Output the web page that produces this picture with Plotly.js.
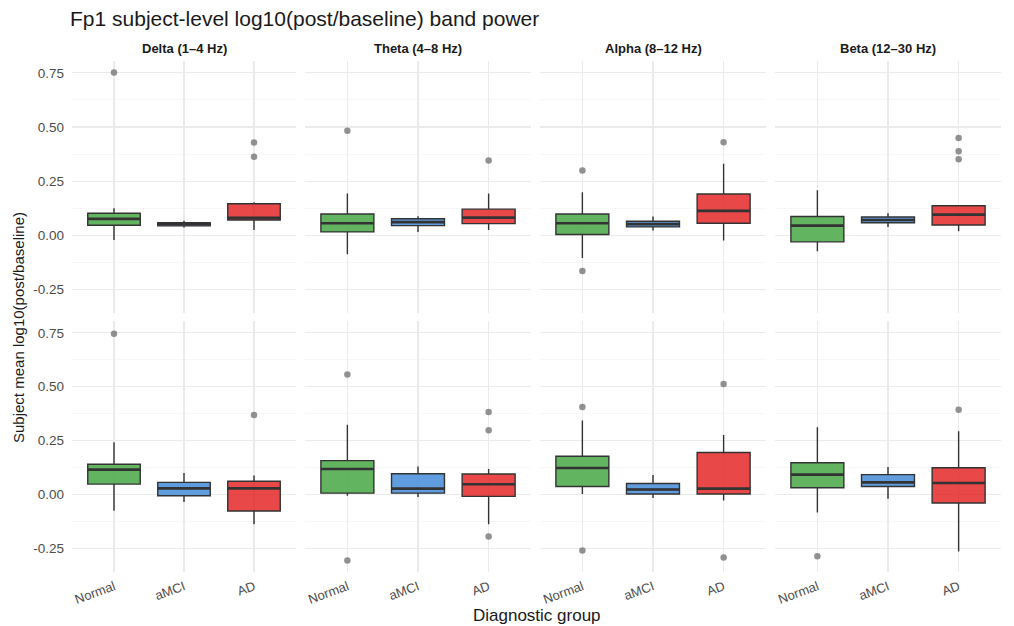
<!DOCTYPE html>
<html>
<head>
<meta charset="utf-8">
<script src="https://cdn.plot.ly/plotly-3.0.1.min.js"></script>
<style>html,body{margin:0;padding:0;background:#fff;}#chart{width:1014px;height:626px;}</style>
</head>
<body>
<div id="chart"></div>
<script>
// ---------- data ----------
const bands = ["Delta (1–4 Hz)", "Theta (4–8 Hz)", "Alpha (8–12 Hz)", "Beta (12–30 Hz)"];
const groups = ["Normal", "aMCI", "AD"];
const groupColors = ["rgba(77,170,74,0.88)", "rgba(74,144,217,0.88)", "rgba(228,26,28,0.8)"];

// top row: [band][group]
const topLower  = [[-0.022, 0.035, 0.024], [-0.088, 0.015, 0.024], [-0.106, 0.021, -0.025], [-0.075, 0.038, 0.018]];
const topQ1     = [[0.046, 0.043, 0.070], [0.015, 0.044, 0.053], [0.003, 0.038, 0.055], [-0.031, 0.057, 0.047]];
const topMedian = [[0.075, 0.050, 0.080], [0.055, 0.060, 0.081], [0.055, 0.051, 0.112], [0.044, 0.070, 0.095]];
const topQ3     = [[0.101, 0.058, 0.145], [0.098, 0.076, 0.120], [0.098, 0.064, 0.190], [0.086, 0.084, 0.136]];
const topUpper  = [[0.124, 0.067, 0.152], [0.193, 0.087, 0.193], [0.198, 0.086, 0.330], [0.208, 0.101, 0.138]];
const topOutliers = [
  [[0.752], [], [0.428, 0.362]],
  [[0.483], [], [0.345]],
  [[0.299, -0.166], [], [0.429]],
  [[], [], [0.449, 0.388, 0.351]]
];

// bottom row: [band][group]
const botLower  = [[-0.076, -0.035, -0.138], [-0.006, -0.012, -0.138], [0.002, -0.017, -0.028], [-0.084, -0.020, -0.265]];
const botQ1     = [[0.048, -0.006, -0.077], [0.006, 0.006, -0.009], [0.037, 0.002, 0.002], [0.031, 0.037, -0.040]];
const botMedian = [[0.115, 0.028, 0.028], [0.118, 0.027, 0.047], [0.123, 0.023, 0.027], [0.092, 0.056, 0.053]];
const botQ3     = [[0.140, 0.056, 0.061], [0.157, 0.096, 0.095], [0.177, 0.051, 0.195], [0.147, 0.092, 0.124]];
const botUpper  = [[0.242, 0.100, 0.088], [0.324, 0.130, 0.118], [0.343, 0.090, 0.276], [0.312, 0.127, 0.293]];
const botOutliers = [
  [[0.746], [], [0.369]],
  [[0.557, -0.307], [], [0.383, 0.298, -0.195]],
  [[0.406, -0.260], [], [0.513, -0.293]],
  [[-0.287], [], [0.393]]
];

const yTickVals = [-0.25, 0, 0.25, 0.5, 0.75];
const yTickText = ["-0.25", "0.00", "0.25", "0.50", "0.75"];

// ---------- layout geometry ----------
const W = 1014, H = 626;
const colX = [[72, 296], [305, 531], [540, 766], [775, 1001]];
const rowY = [[61, 313], [321, 572]];

const rows = [
  {lower: topLower, q1: topQ1, median: topMedian, q3: topQ3, upper: topUpper, out: topOutliers},
  {lower: botLower, q1: botQ1, median: botMedian, q3: botQ3, upper: botUpper, out: botOutliers}
];

// shared y range with 5% expansion
let allVals = [];
rows.forEach(r => {
  [r.lower, r.upper].forEach(a => a.forEach(b => allVals.push(...b)));
  r.out.forEach(b => b.forEach(g => allVals.push(...g)));
});
const ymin = Math.min(...allVals), ymax = Math.max(...allVals);
const pad = (ymax - ymin) * 0.05;
const yRange = [ymin - pad, ymax + pad];

const font = "Liberation Sans, Arial, sans-serif";
const traces = [];
const layout = {
  width: W, height: H,
  margin: {l: 0, r: 0, t: 0, b: 0},
  paper_bgcolor: "#fff", plot_bgcolor: "#fff",
  showlegend: false,
  font: {family: font, color: "#4d4d4d"},
  title: {
    text: "Fp1 subject-level log10(post/baseline) band power",
    x: 70 / W, xanchor: "left", xref: "paper",
    y: 1 - 19 / H, yanchor: "middle",
    font: {family: font, size: 21, color: "#1a1a1a"}
  },
  annotations: [],
  boxmode: "overlay"
};

rows.forEach((r, ri) => {
  bands.forEach((band, ci) => {
    const idx = ri * 4 + ci + 1;
    const sfx = idx === 1 ? "" : String(idx);
    const xa = "x" + sfx, ya = "y" + sfx;
    layout["xaxis" + sfx] = {
      domain: [colX[ci][0] / W, colX[ci][1] / W],
      anchor: ya,
      type: "category",
      categoryorder: "array", categoryarray: groups,
      range: [-0.6, 2.6],
      showgrid: true, gridcolor: "#ebebeb", gridwidth: 1.1,
      zeroline: false, showline: false, ticks: "",
      showticklabels: ri === 1,
      tickangle: -20,
      tickfont: {family: font, size: 13, color: "#4d4d4d"},
      ticklabelstandoff: 4,
      fixedrange: true
    };
    layout["yaxis" + sfx] = {
      domain: [1 - rowY[ri][1] / H, 1 - rowY[ri][0] / H],
      anchor: xa,
      range: yRange,
      tickmode: "array", tickvals: yTickVals, ticktext: yTickText,
      showgrid: true, gridcolor: "#ebebeb", gridwidth: 1.1,
      minor: {tickmode: "array", tickvals: [-0.125, 0.125, 0.375, 0.625], showgrid: true, gridcolor: "#f2f2f2", gridwidth: 0.6, ticks: ""},
      zeroline: false, showline: false, ticks: "",
      showticklabels: ci === 0,
      tickfont: {family: font, size: 13.5, color: "#4d4d4d"},
      ticklabelstandoff: 7,
      fixedrange: true
    };
    groups.forEach((g, gi) => {
      traces.push({
        type: "box", xaxis: xa, yaxis: ya,
        x: [g],
        q1: [r.q1[ci][gi]], median: [r.median[ci][gi]], q3: [r.q3[ci][gi]],
        lowerfence: [r.lower[ci][gi]], upperfence: [r.upper[ci][gi]],
        fillcolor: groupColors[gi],
        line: {color: "#333333", width: 1.4},
        whiskerwidth: 0, width: 0.75, boxpoints: false,
        hoverinfo: "skip", showlegend: false
      });
      // thicker median line
      const m = r.median[ci][gi];
      traces.push({
        type: "box", xaxis: xa, yaxis: ya,
        x: [g],
        q1: [m], median: [m], q3: [m], lowerfence: [m], upperfence: [m],
        fillcolor: "rgba(0,0,0,0)",
        line: {color: "#333333", width: 2.6},
        whiskerwidth: 0, width: 0.75, boxpoints: false,
        hoverinfo: "skip", showlegend: false
      });
    });
    // outliers
    const ox = [], oy = [];
    groups.forEach((g, gi) => r.out[ci][gi].forEach(v => { ox.push(g); oy.push(v); }));
    traces.push({
      type: "scatter", mode: "markers", xaxis: xa, yaxis: ya,
      x: ox, y: oy,
      marker: {color: "rgba(110,110,110,0.75)", size: 6.5, line: {width: 0}},
      hoverinfo: "skip", showlegend: false
    });
    if (ri === 0) {
      layout.annotations.push({
        text: "<b>" + band + "</b>", xref: "paper", yref: "paper",
        x: (colX[ci][0] + colX[ci][1]) / 2 / W, y: 1 - 49 / H,
        xanchor: "center", yanchor: "middle", showarrow: false,
        font: {family: font, size: 13, color: "#1a1a1a"}
      });
    }
  });
});

// axis titles
layout.annotations.push({
  text: "Diagnostic group", xref: "paper", yref: "paper",
  x: 537 / W, y: 1 - 615 / H, xanchor: "center", yanchor: "middle",
  showarrow: false, font: {family: font, size: 17, color: "#1a1a1a"}
});
layout.annotations.push({
  text: "Subject mean log10(post/baseline)", xref: "paper", yref: "paper",
  x: 18 / W, y: 1 - 328 / H, xanchor: "center", yanchor: "middle",
  textangle: -90, showarrow: false, font: {family: font, size: 15, color: "#1a1a1a"}
});

Plotly.newPlot("chart", traces, layout, {staticPlot: true, displayModeBar: false});
</script>
</body>
</html>
